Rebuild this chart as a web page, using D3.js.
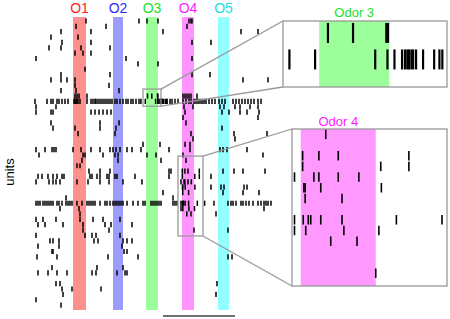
<!DOCTYPE html>
<html>
<head>
<meta charset="UTF-8">
<style>
  body { margin: 0; background: white; }
  svg { display: block; }
  text { font-family: "Liberation Sans", Arial, sans-serif; }
</style>
</head>
<body>
<svg></svg>
<script src="https://d3js.org/d3.v7.min.js"></script>
<script>

let width = 450, height = 319;

// odor presentations (seconds)
const odorLabels = ["O1", "O2", "O3", "O4", "O5"];
const odorOn  = [5.1, 9.1, 12.4, 16.0, 19.6];
const odorOff = [6.4, 10.1, 13.6, 17.2, 20.7];
const odorBand = ["#ff9090", "#9c9cff", "#9cff9c", "#ff94ff", "#94ffff"];
const odorText = ["#ff1a1a", "#2a2aff", "#1ee01e", "#ff1aff", "#14e0e0"];

// spike times per unit (seconds), unit 0 on top
const spikeTimes = [
  [6.4, 11.7, 12.5, 13.6, 16.7, 16.9, 17.0],
  [5.4, 8.4, 16.5],
  [3.9, 6.9, 14.1, 21.9, 23.6],
  [2.9, 5.6],
  [4.0, 6.9, 17.0, 18.9],
  [2.7, 3.9, 5.9, 8.8],
  [5.3, 6.1, 6.9],
  [1.4, 10.4, 17.0],
  [11.6, 13.6],
  [6.3],
  [3.9, 8.8, 17.0, 18.8],
  [2.9, 3.9, 4.5, 5.3, 22.1, 24.6],
  [5.3, 8.7],
  [3.9, 5.4, 9.7],
  [5.3, 5.5, 5.7, 6.5, 12.55, 12.98, 13.55, 13.58, 16.1, 16.3, 16.5, 16.7, 16.9, 17.5],
  [1.3, 2.5, 2.9, 3.1, 3.5, 3.7, 4.0, 4.3, 4.6, 5.2, 5.3, 5.4, 5.5, 5.6, 5.8, 6.5, 6.9, 7.1, 7.3, 7.4,
   7.6, 7.8, 8.0, 8.2, 8.4, 8.6, 8.8, 9.0, 9.3, 9.5, 9.8, 10.1, 10.4, 10.6, 10.9, 11.1, 11.4, 11.7,
   11.89, 12.33, 13.36, 13.57, 13.69, 13.82, 13.87, 13.91, 13.94, 13.98, 14.01, 14.06, 14.18, 14.37,
   14.46, 14.51, 14.8, 15.0, 15.3, 15.6, 16.1, 16.4, 16.7, 16.9, 17.2, 17.4, 17.6, 17.8, 18.0, 18.2,
   18.4, 18.7, 19.0, 19.3, 19.7, 20.0, 20.3, 21.1, 21.4, 21.7, 22.0, 22.3, 22.6, 22.9, 23.2, 23.6, 23.9],
  [1.4, 3.4, 16.2, 17.1, 19.8, 20.2, 21.3, 21.8, 22.8, 23.6],
  [1.4, 2.9, 3.1, 6.9, 7.3, 7.7, 8.1, 8.5, 8.9, 16.3, 20.0, 20.7, 21.8, 22.5, 23.7],
  [16.1, 23.6],
  [2.9, 7.8, 9.7, 16.4],
  [3.1, 5.3, 7.8, 9.4, 20.0],
  [5.6, 9.3, 16.9, 21.2, 24.5],
  [17.1, 21.3],
  [12.1, 13.8, 16.3, 16.8],
  [1.4, 2.3, 3.0, 3.2, 3.4, 5.1, 5.9, 6.9, 7.8, 8.8, 9.1, 9.4, 9.8, 10.5, 11.0, 11.9, 14.7, 16.8,
   19.8, 20.1, 20.5, 22.5],
  [1.7, 6.1, 6.3, 8.1, 9.3, 9.6, 12.5, 13.4, 16.1, 24.1],
  [6.0, 9.6, 13.9, 16.40],
  [5.5, 5.8],
  [6.7, 7.8, 8.8, 14.7, 14.9, 16.03, 16.29, 16.60, 17.73, 20.1, 21.2, 22.1, 24.3],
  [1.6, 2.0, 2.6, 3.1, 3.5, 4.0, 4.2, 6.8, 7.0, 7.5, 7.8, 8.5, 8.7, 9.3, 9.5, 11.3, 14.7, 16.03,
   17.28, 17.73, 18.9],
  [1.4, 2.7, 3.1, 3.4, 3.8, 5.5, 6.6, 7.8, 8.7, 10.1, 12.0, 15.90, 16.21, 16.29, 16.60, 16.93],
  [16.05, 16.07, 16.32, 17.29, 18.9, 19.9, 20.2, 22.2, 22.5],
  [14.1, 16.07, 16.66, 20.1, 22.1, 23.7],
  [4.4, 15.1],
  [1.4, 1.6, 1.8, 2.1, 2.3, 2.5, 2.7, 2.9, 3.1, 3.5, 3.7, 4.0, 4.4, 4.6, 4.8, 5.0, 5.5, 6.0, 6.5,
   6.7, 6.9, 7.1, 7.3, 7.8, 8.3, 8.5, 8.8, 9.1, 9.3, 9.5, 9.7, 9.9, 10.1, 10.5, 11.1, 11.6, 12.1,
   12.3, 12.9, 13.1, 13.3, 13.5, 13.7, 13.9, 15.1, 15.3, 15.5, 15.90, 16.04, 16.12, 16.16, 16.32,
   16.66, 17.53, 18.26, 19.2, 20.6, 20.9, 21.1, 21.4, 21.9, 22.1, 22.4, 22.7, 23.1, 23.6, 23.9,
   24.2, 24.4, 24.6, 24.9],
  [3.8, 5.7, 15.90, 16.08, 16.69, 17.25, 24.2],
  [5.8, 16.48, 16.90, 19.4],
  [1.4, 2.1, 3.4, 5.8, 7.1, 8.1, 9.8],
  [1.6, 2.3, 4.1, 6.1, 8.3, 8.9, 11.0],
  [6.1, 8.7, 17.20, 20.6],
  [1.4, 6.3, 7.0, 7.4, 9.8],
  [2.8, 3.1, 3.7, 7.2, 7.6, 10.1, 10.5, 11.0],
  [1.6, 3.7, 10.0],
  [3.0, 3.1, 10.2, 10.5],
  [1.5, 3.5, 8.6, 11.6, 20.6, 21.0],
  [],
  [3.0, 7.5, 10.1],
  [1.6, 2.6, 3.5, 4.5, 7.0, 7.4, 9.5, 10.3, 10.5],
  [],
  [3.4, 3.8, 19.5],
  [4.0, 5.0, 7.9],
  [4.1, 19.4],
  [1.4],
  [3.9]
];

// highlighted windows in the raster: time range and unit range
const zoomOdor  = [2, 3];                         // Odor 3, Odor 4
const boxTime   = [[12.1, 13.9], [15.6, 18.1]];
const boxUnits  = [[12.7, 15.9], [25.2, 40.1]];
// what each inset shows
const insetTime  = [[11.78, 14.59], [15.86, 18.34]];
const insetUnits = [[13.55, 16.04], [25.5, 40.2]];
const insetRows  = [[14, 15], [26, 39]];

const scaleBar = [14.1, 21.3];  // seconds

let svg = d3.select("svg")
    .attr("width", width)
    .attr("height", height);

let x = d3.scaleLinear().domain([0, 25.2]).range([22, 274]);
let y = d3.scaleLinear().domain([0, spikeTimes.length - 1]).range([21, 305.1]);

// flatten spikes
let spikes = [];
spikeTimes.forEach((times, unit) => times.forEach(t => spikes.push({unit: unit, t: t})));

// odor bands
svg.append("g").selectAll("rect")
    .data(odorLabels)
    .join("rect")
    .attr("x", (d, i) => x(odorOn[i]))
    .attr("width", (d, i) => x(odorOff[i]) - x(odorOn[i]))
    .attr("y", 17)
    .attr("height", 293)
    .attr("fill", (d, i) => odorBand[i]);

svg.append("g").selectAll("text")
    .data(odorLabels)
    .join("text")
    .attr("x", (d, i) => x((odorOn[i] + odorOff[i]) / 2))
    .attr("y", 13)
    .attr("text-anchor", "middle")
    .attr("font-size", 14)
    .attr("fill", (d, i) => odorText[i])
    .text(d => d);

// raster
svg.append("g").selectAll("line")
    .data(spikes)
    .join("line")
    .attr("x1", d => x(d.t)).attr("x2", d => x(d.t))
    .attr("y1", d => y(d.unit) - 2.6).attr("y2", d => y(d.unit) + 2.6)
    .attr("stroke", "black")
    .attr("stroke-width", 1.5);

// y label
svg.append("text")
    .attr("transform", "translate(14,172) rotate(-90)")
    .attr("text-anchor", "middle")
    .attr("font-size", 13)
    .text("units");

// scale bar
svg.append("line")
    .attr("x1", x(scaleBar[0])).attr("x2", x(scaleBar[1]))
    .attr("y1", 316).attr("y2", 316)
    .attr("stroke", "#707070")
    .attr("stroke-width", 2);

// insets
const insetBox = [
  {x: 283, y: 21, w: 164, h: 66, tick: 20, sw: 2.2, band: "#9cff9c", title: "Odor 3", titleColor: "#1ee01e", ty: 17},
  {x: 292, y: 129, w: 155, h: 157, tick: 9.5, sw: 1.6, band: "#ff99ff", title: "Odor 4", titleColor: "#ff1aff", ty: 126}
];

insetBox.forEach((b, k) => {
    let o = zoomOdor[k];
    let ix = d3.scaleLinear().domain(insetTime[k]).range([b.x, b.x + b.w]);
    let iy = d3.scaleLinear().domain(insetUnits[k]).range([b.y, b.y + b.h]);

    // box in the raster
    let bx0 = x(boxTime[k][0]), bx1 = x(boxTime[k][1]);
    let by0 = y(boxUnits[k][0]), by1 = y(boxUnits[k][1]);
    svg.append("rect")
        .attr("x", bx0).attr("y", by0)
        .attr("width", bx1 - bx0).attr("height", by1 - by0)
        .attr("fill", "none")
        .attr("stroke", "#999")
        .attr("stroke-width", 1.3);

    // connector lines
    svg.append("g").selectAll("line")
        .data([[by0, b.y], [by1, b.y + b.h]])
        .join("line")
        .attr("x1", bx1).attr("y1", d => d[0])
        .attr("x2", b.x).attr("y2", d => d[1])
        .attr("stroke", "#999")
        .attr("stroke-width", 1.3);

    let g = svg.append("g");
    g.append("rect")
        .attr("x", b.x).attr("y", b.y).attr("width", b.w).attr("height", b.h)
        .attr("fill", "white");
    g.append("rect")
        .attr("x", ix(odorOn[o])).attr("y", b.y)
        .attr("width", ix(odorOff[o]) - ix(odorOn[o]))
        .attr("height", b.h)
        .attr("fill", b.band);

    let inside = spikes.filter(d => d.unit >= insetRows[k][0] && d.unit <= insetRows[k][1]
        && d.t >= insetTime[k][0] && d.t <= insetTime[k][1]);
    g.selectAll("line")
        .data(inside)
        .join("line")
        .attr("x1", d => ix(d.t)).attr("x2", d => ix(d.t))
        .attr("y1", d => iy(d.unit) - b.tick / 2).attr("y2", d => iy(d.unit) + b.tick / 2)
        .attr("stroke", "black")
        .attr("stroke-width", b.sw);

    g.append("rect")
        .attr("x", b.x).attr("y", b.y).attr("width", b.w).attr("height", b.h)
        .attr("fill", "none")
        .attr("stroke", "#999")
        .attr("stroke-width", 1.3);

    g.append("text")
        .attr("x", ix((odorOn[o] + odorOff[o]) / 2))
        .attr("y", b.ty)
        .attr("text-anchor", "middle")
        .attr("font-size", 13)
        .attr("fill", b.titleColor)
        .text(b.title);
});

</script>
</body>
</html>
